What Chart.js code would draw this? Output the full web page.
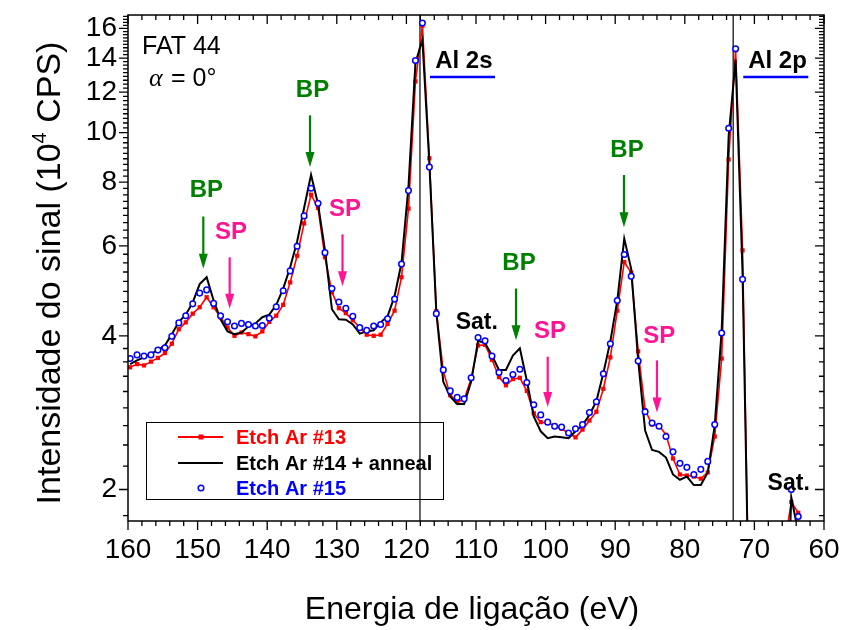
<!DOCTYPE html>
<html>
<head>
<meta charset="utf-8">
<script src="https://cdn.jsdelivr.net/npm/chart.js@4.4.1/dist/chart.umd.min.js"></script>
<style>
  html, body { margin: 0; padding: 0; background: #fff; }
</style>
</head>
<body>
<canvas id="myChart" width="843" height="630"></canvas>
<script>
// binding energy (eV) of each sample point
const energy = [
  159.7, 158.7, 157.7, 156.7, 155.7, 154.7, 153.7, 152.7, 151.7, 150.7,
  149.7, 148.7, 147.7, 146.7, 145.7, 144.7, 143.7, 142.7, 141.7, 140.7,
  139.7, 138.7, 137.7, 136.7, 135.7, 134.7, 133.7, 132.7, 131.7, 130.7,
  129.7, 128.7, 127.7, 126.7, 125.7, 124.7, 123.7, 122.7, 121.7, 120.7,
  119.7, 118.7, 117.7, 116.7, 115.7, 114.7, 113.7, 112.7, 111.7, 110.7,
  109.7, 108.7, 107.7, 106.7, 105.7, 104.7, 103.7, 102.7, 101.7, 100.7,
  99.7, 98.7, 97.7, 96.7, 95.7, 94.7, 93.7, 92.7, 91.7, 90.7,
  89.7, 88.7, 87.7, 86.7, 85.7, 84.7, 83.7, 82.7, 81.7, 80.7,
  79.7, 78.7, 77.7, 76.7, 75.7, 74.7, 73.7, 72.7, 71.7, 70.7,
  69.7, 68.7, 67.7, 66.7, 65.7, 64.7, 63.7, 62.7
];

// signal intensity (10^4 CPS)
const etch13 = [
  3.47, 3.52, 3.50, 3.56, 3.62, 3.70, 3.86, 4.12, 4.25, 4.42,
  4.55, 4.76, 4.55, 4.35, 4.15, 4.00, 4.06, 4.03, 3.99, 4.08,
  4.26, 4.38, 4.60, 5.09, 5.74, 6.64, 7.56, 7.12, 5.70, 4.87,
  4.53, 4.43, 4.29, 4.15, 4.02, 4.00, 4.02, 4.22, 4.48, 5.21,
  7.10, 12.6, 16.2, 8.91, 4.47, 3.41, 3.06, 2.97, 3.00, 3.30,
  3.83, 3.84, 3.59, 3.32, 3.20, 3.29, 3.31, 3.12, 2.82, 2.71,
  2.70, 2.67, 2.63, 2.58, 2.53, 2.62, 2.73, 2.84, 3.15, 3.63,
  4.48, 5.58, 5.32, 3.73, 2.86, 2.68, 2.67, 2.56, 2.30, 2.14,
  2.13, 2.12, 2.10, 2.16, 2.54, 3.61, 8.86, 14.5, 5.88, 1.00,
  1.10, 1.15, 1.20, 1.30, 1.55, 1.89, 1.80, 0.90
];

const etch14 = [
  3.52, 3.58, 3.63, 3.69, 3.75, 3.83, 4.03, 4.26, 4.40, 4.65,
  5.05, 5.21, 4.69, 4.31, 4.08, 4.03, 4.06, 4.17, 4.23, 4.35,
  4.40, 4.60, 4.95, 5.45, 6.12, 7.12, 8.27, 7.25, 5.88, 4.51,
  4.31, 4.30, 4.21, 4.04, 4.08, 4.10, 4.25, 4.37, 4.78, 5.56,
  7.85, 13.7, 15.2, 8.70, 4.45, 3.25, 3.04, 2.94, 2.94, 3.25,
  3.91, 3.87, 3.66, 3.43, 3.43, 3.66, 3.78, 3.27, 2.78, 2.60,
  2.52, 2.54, 2.53, 2.52, 2.60, 2.67, 2.80, 2.98, 3.38, 3.90,
  4.69, 6.20, 5.41, 3.58, 2.61, 2.39, 2.37, 2.31, 2.14, 2.09,
  2.12, 2.04, 2.04, 2.16, 2.67, 4.10, 9.84, 13.9, 5.30, 1.00,
  1.10, 1.10, 1.20, 1.20, 0.80, 1.93, 1.65, 0.90
];

const etch15 = [
  3.61, 3.67, 3.65, 3.67, 3.75, 3.79, 3.99, 4.24, 4.38, 4.62,
  4.85, 4.92, 4.63, 4.38, 4.26, 4.18, 4.23, 4.21, 4.18, 4.19,
  4.33, 4.56, 4.90, 5.36, 5.99, 6.87, 7.78, 7.27, 5.82, 4.95,
  4.66, 4.53, 4.37, 4.15, 4.10, 4.18, 4.21, 4.32, 4.72, 5.53,
  7.70, 13.85, 16.4, 8.56, 4.42, 3.43, 3.12, 3.03, 3.01, 3.31,
  3.97, 3.91, 3.65, 3.39, 3.27, 3.36, 3.44, 3.24, 2.93, 2.80,
  2.71, 2.66, 2.65, 2.58, 2.63, 2.68, 2.83, 2.97, 3.37, 3.86,
  4.69, 5.77, 5.23, 3.57, 2.84, 2.70, 2.66, 2.54, 2.37, 2.25,
  2.21, 2.14, 2.19, 2.27, 2.68, 4.05, 10.2, 14.6, 5.16, 1.10,
  1.10, 1.20, 1.20, 1.30, 1.50, 2.00, 1.77, 1.00
];

const seriesNames = ['Etch Ar #13', 'Etch Ar #14 + anneal', 'Etch Ar #15'];

const xTicks = [160, 150, 140, 130, 120, 110, 100, 90, 80, 70, 60];
const yTicks = [2, 4, 6, 8, 10, 12, 14, 16];

// Al 2s / Al 2p reference lines
const refLines = [118.05, 73.05];

const FONT = '"Liberation Sans", Arial, sans-serif';
const GREEN = '#008000';
const PINK = '#ff1493';

// labels placed on the plot (energy, intensity)
const notes = [
  { t: 'BP', e: 148.75, v: 7.76, c: GREEN },
  { t: 'SP', e: 145.2, v: 6.43, c: PINK },
  { t: 'BP', e: 133.49, v: 12.23, c: GREEN },
  { t: 'SP', e: 128.82, v: 7.13, c: PINK },
  { t: 'Al 2s', e: 111.75, v: 13.9, c: '#000' },
  { t: 'Sat.', e: 109.89, v: 4.29, c: '#000' },
  { t: 'BP', e: 103.82, v: 5.59, c: GREEN },
  { t: 'SP', e: 99.37, v: 4.11, c: PINK },
  { t: 'BP', e: 88.3, v: 9.33, c: GREEN },
  { t: 'SP', e: 83.68, v: 4.03, c: PINK },
  { t: 'Al 2p', e: 66.68, v: 13.9, c: '#000' },
  { t: 'Sat.', e: 65.07, v: 2.07, c: '#000' }
];

const arrows = [
  { e: 149.18, from: 6.85, to: 5.41, c: GREEN },
  { e: 145.39, from: 5.70, to: 4.52, c: PINK },
  { e: 133.85, from: 10.81, to: 8.56, c: GREEN },
  { e: 129.18, from: 6.32, to: 5.00, c: PINK },
  { e: 104.25, from: 4.95, to: 3.92, c: GREEN },
  { e: 99.70, from: 3.64, to: 2.90, c: PINK },
  { e: 88.74, from: 8.26, to: 6.53, c: GREEN },
  { e: 84.0, from: 3.58, to: 2.83, c: PINK }
];

const underlines = [
  { e1: 116.61, e2: 107.27, v: 12.85 },
  { e1: 71.6, e2: 62.26, v: 12.85 }
];

const toPoints = (vals) => energy.map((e, i) => ({ x: e, y: vals[i] }));

const decor = {
  id: 'decor',
  beforeDatasetsDraw(chart) {
    const { ctx, chartArea: a, scales: { x } } = chart;
    ctx.save();
    ctx.strokeStyle = '#000';
    ctx.lineWidth = 1.2;
    refLines.forEach((e) => {
      const px = x.getPixelForValue(e);
      ctx.beginPath();
      ctx.moveTo(px, a.top);
      ctx.lineTo(px, a.bottom);
      ctx.stroke();
    });
    ctx.restore();
  },
  afterDatasetsDraw(chart) {
    const { ctx, chartArea: a, scales: { x, y } } = chart;
    ctx.save();

    // frame
    ctx.strokeStyle = '#000';
    ctx.lineWidth = 1.5;
    ctx.strokeRect(a.left, a.top, a.right - a.left, a.bottom - a.top);

    // tick marks on all four sides
    ctx.lineWidth = 1.3;
    ctx.beginPath();
    for (let v = 60; v <= 160; v += 2) {
      const px = x.getPixelForValue(v);
      const len = v % 10 === 0 ? 9 : 5;
      ctx.moveTo(px, a.bottom);
      ctx.lineTo(px, a.bottom + len);
      ctx.moveTo(px, a.top);
      ctx.lineTo(px, a.top + len);
    }
    for (let k = 0; k <= 8 * 9; k++) {
      const v = 2 + (2 / 9) * (k - 1);
      if (v < y.min || v > y.max) continue;
      const py = y.getPixelForValue(v);
      const len = (k - 1) % 9 === 0 ? 9 : 5;
      ctx.moveTo(a.left, py);
      ctx.lineTo(a.left - len, py);
      ctx.moveTo(a.right, py);
      ctx.lineTo(a.right - len, py);
    }
    ctx.stroke();

    // text labels
    ctx.textAlign = 'center';
    ctx.textBaseline = 'alphabetic';
    notes.forEach((n) => {
      const size = n.t.startsWith('Sat') ? 23 : 24;
      ctx.font = 'bold ' + size + 'px ' + FONT;
      ctx.fillStyle = n.c;
      ctx.fillText(n.t, x.getPixelForValue(n.e), y.getPixelForValue(n.v) + size * 0.358);
    });

    // arrows
    arrows.forEach((ar) => {
      const px = x.getPixelForValue(ar.e);
      const y1 = y.getPixelForValue(ar.from);
      const y2 = y.getPixelForValue(ar.to);
      ctx.strokeStyle = ar.c;
      ctx.fillStyle = ar.c;
      ctx.lineWidth = 2.2;
      ctx.beginPath();
      ctx.moveTo(px, y1);
      ctx.lineTo(px, y2 - 12);
      ctx.stroke();
      ctx.beginPath();
      ctx.moveTo(px - 4.5, y2 - 15);
      ctx.lineTo(px + 4.5, y2 - 15);
      ctx.lineTo(px, y2);
      ctx.closePath();
      ctx.fill();
    });

    // blue underlines under the Al labels
    ctx.strokeStyle = '#0000ff';
    ctx.lineWidth = 2.5;
    underlines.forEach((u) => {
      const py = y.getPixelForValue(u.v);
      ctx.beginPath();
      ctx.moveTo(x.getPixelForValue(u.e1), py);
      ctx.lineTo(x.getPixelForValue(u.e2), py);
      ctx.stroke();
    });

    // sample name and angle
    ctx.textAlign = 'left';
    ctx.fillStyle = '#000';
    ctx.font = '25px ' + FONT;
    ctx.fillText('FAT 44', a.left + 14, a.top + 30 + 9);
    ctx.font = 'italic 26px "Liberation Serif", serif';
    ctx.fillText('\u03b1', a.left + 21, a.top + 62 + 9);
    ctx.font = '25px ' + FONT;
    ctx.fillText(' = 0\u00b0', a.left + 36, a.top + 62 + 9);

    // legend
    const lx = a.left + 18, ly = a.top + 407, lw = 297, lh = 77;
    ctx.strokeStyle = '#000';
    ctx.lineWidth = 1;
    ctx.strokeRect(lx + 0.5, ly + 0.5, lw, lh);
    const rows = [ly + 15, ly + 41, ly + 66];
    const colors = ['#ff0000', '#000000', '#0000ff'];
    ctx.strokeStyle = '#ff0000';
    ctx.lineWidth = 2;
    ctx.beginPath();
    ctx.moveTo(lx + 32, rows[0]);
    ctx.lineTo(lx + 77, rows[0]);
    ctx.stroke();
    ctx.fillStyle = '#ff0000';
    ctx.fillRect(lx + 52.5, rows[0] - 2.5, 5, 5);
    ctx.strokeStyle = '#000';
    ctx.lineWidth = 2.2;
    ctx.beginPath();
    ctx.moveTo(lx + 32, rows[1]);
    ctx.lineTo(lx + 77, rows[1]);
    ctx.stroke();
    ctx.strokeStyle = '#0000ff';
    ctx.lineWidth = 1.5;
    ctx.fillStyle = '#fff';
    ctx.beginPath();
    ctx.arc(lx + 55, rows[2], 2.8, 0, Math.PI * 2);
    ctx.fill();
    ctx.stroke();
    ctx.font = 'bold 20px ' + FONT;
    seriesNames.forEach((s, i) => {
      ctx.fillStyle = colors[i];
      ctx.fillText(s, lx + 90, rows[i] + 7);
    });

    // axis titles
    ctx.fillStyle = '#000';
    ctx.textAlign = 'center';
    ctx.font = '32px ' + FONT;
    ctx.fillText('Energia de ligação (eV)', (a.left + a.right) / 2 - 4, 619);

    ctx.translate(60, (a.top + a.bottom) / 2 + 5);
    ctx.rotate(-Math.PI / 2);
    const big = '34px ' + FONT, small = '20px ' + FONT;
    const p1 = 'Intensidade do sinal (10', p2 = '4', p3 = ' CPS)';
    ctx.font = big; const w1 = ctx.measureText(p1).width, w3 = ctx.measureText(p3).width;
    ctx.font = small; const w2 = ctx.measureText(p2).width;
    let cx = -(w1 + w2 + w3) / 2;
    ctx.textAlign = 'left';
    ctx.font = big; ctx.fillText(p1, cx, 0); cx += w1;
    ctx.font = small; ctx.fillText(p2, cx, -14); cx += w2;
    ctx.font = big; ctx.fillText(p3, cx, 0);

    ctx.restore();
  }
};

new Chart(document.getElementById('myChart'), {
  type: 'line',
  data: {
    datasets: [
      {
        label: seriesNames[0],
        data: toPoints(etch13),
        borderColor: '#ff0000',
        backgroundColor: '#ff0000',
        borderWidth: 1.6,
        pointStyle: 'rect',
        pointRadius: 3,
        pointBorderWidth: 0,
        order: 2
      },
      {
        label: seriesNames[1],
        data: toPoints(etch14),
        borderColor: '#000000',
        borderWidth: 2,
        pointRadius: 0,
        order: 1
      },
      {
        label: seriesNames[2],
        data: toPoints(etch15),
        showLine: false,
        borderColor: '#0000ff',
        backgroundColor: '#ffffff',
        pointStyle: 'circle',
        pointRadius: 2.8,
        pointBorderWidth: 1.5,
        order: 0
      }
    ]
  },
  options: {
    responsive: false,
    animation: false,
    devicePixelRatio: 1,
    layout: { padding: { top: 15, right: 19, left: 0, bottom: 0 } },
    plugins: { legend: { display: false }, tooltip: { enabled: false } },
    scales: {
      x: {
        type: 'linear',
        reverse: true,
        min: 60,
        max: 160,
        grid: { display: false, drawTicks: false },
        border: { display: false },
        afterBuildTicks: (s) => { s.ticks = xTicks.map((v) => ({ value: v })); },
        afterFit: (s) => { s.height = 109; s.paddingLeft = 0; s.paddingRight = 0; },
        ticks: {
          autoSkip: false,
          maxRotation: 0,
          padding: 12,
          color: '#000',
          font: { family: FONT, size: 28 },
          callback: (v) => String(v)
        }
      },
      y: {
        type: 'logarithmic',
        min: 1.735,
        max: 17,
        grid: { display: false, drawTicks: false },
        border: { display: false },
        afterBuildTicks: (s) => { s.ticks = yTicks.map((v) => ({ value: v })); },
        afterFit: (s) => { s.width = 128; s.paddingTop = 0; s.paddingBottom = 0; },
        ticks: {
          padding: 11,
          color: '#000',
          font: { family: FONT, size: 28 },
          callback: (v) => String(v)
        }
      }
    }
  },
  plugins: [decor]
});
</script>
</body>
</html>
